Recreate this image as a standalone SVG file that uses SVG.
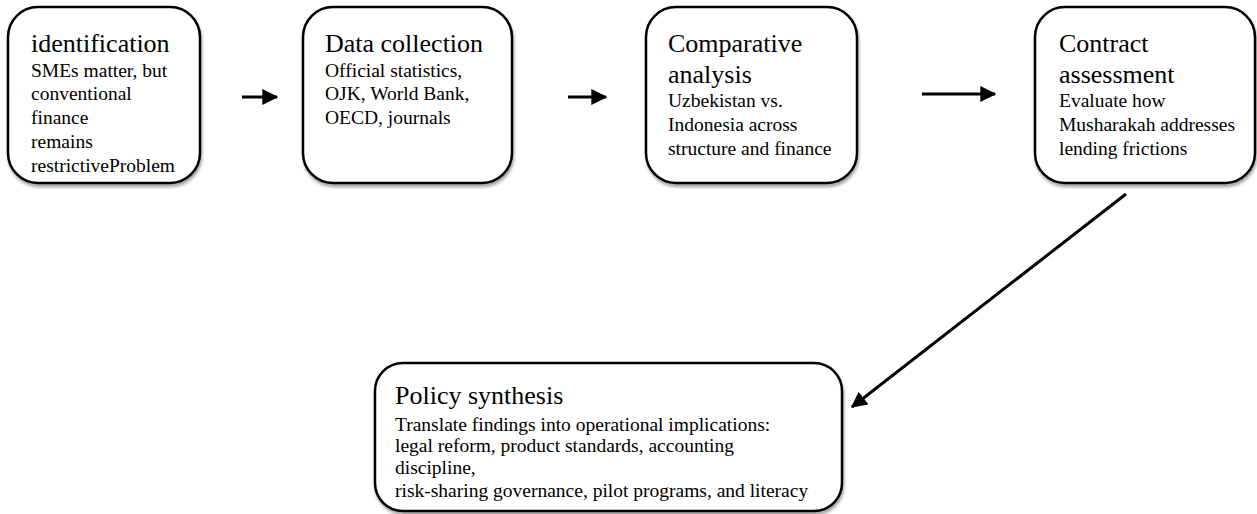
<svg xmlns="http://www.w3.org/2000/svg" width="1257" height="514" viewBox="0 0 1257 514">
<defs>
<filter id="sh" x="-10%" y="-10%" width="120%" height="125%">
<feGaussianBlur in="SourceAlpha" stdDeviation="1.5"/>
<feOffset dx="1" dy="2.5" result="o"/>
<feComponentTransfer><feFuncA type="linear" slope="0.35"/></feComponentTransfer>
<feMerge><feMergeNode/><feMergeNode in="SourceGraphic"/></feMerge>
</filter>
<marker id="ah" markerUnits="userSpaceOnUse" markerWidth="16" markerHeight="16" viewBox="0 0 12 12" refX="11" refY="6" orient="auto">
<path d="M0,0 L12,6 L0,12 Z" fill="#000"/>
</marker>
</defs>
<style>
.box{fill:#fff;stroke:#000;stroke-width:2.5;filter:url(#sh)}
.t{font-family:"Liberation Serif","Times New Roman",serif;fill:#000}
.h{font-size:26px}
.b{font-size:19.5px}
.c{stroke:#000;stroke-width:3;fill:none;marker-end:url(#ah)}
</style>
<g id="n1">
<rect class="box" x="8" y="7" width="192" height="176" rx="30" ry="30"/>
<text class="t h" x="31" y="52">identification</text>
<text class="t b" x="31" y="77">SMEs matter, but</text>
<text class="t b" x="31" y="100">conventional</text>
<text class="t b" x="31" y="124">finance</text>
<text class="t b" x="31" y="148">remains</text>
<text class="t b" x="31" y="172">restrictiveProblem</text>
</g>
<g id="n2">
<rect class="box" x="303" y="7" width="209" height="176" rx="30" ry="30"/>
<text class="t h" x="325" y="52">Data collection</text>
<text class="t b" x="325" y="77">Official  statistics,</text>
<text class="t b" x="325" y="100">OJK, World Bank,</text>
<text class="t b" x="325" y="124">OECD, journals</text>
</g>
<g id="n3">
<rect class="box" x="646" y="7" width="211" height="176" rx="30" ry="30"/>
<text class="t h" x="668" y="52">Comparative</text>
<text class="t h" x="668" y="83">analysis</text>
<text class="t b" x="668" y="107">Uzbekistan vs.</text>
<text class="t b" x="668" y="131">Indonesia across</text>
<text class="t b" x="668" y="155">structure and finance</text>
</g>
<g id="n4">
<rect class="box" x="1035" y="7" width="220" height="176" rx="30" ry="30"/>
<text class="t h" x="1059" y="52">Contract</text>
<text class="t h" x="1059" y="83">assessment</text>
<text class="t b" x="1059" y="107">Evaluate how</text>
<text class="t b" x="1059" y="131">Musharakah addresses</text>
<text class="t b" x="1059" y="155">lending frictions</text>
</g>
<g id="n5">
<rect class="box" x="375" y="363" width="467" height="148" rx="28" ry="28"/>
<text class="t h" x="395" y="404">Policy  synthesis</text>
<text class="t b" x="395" y="431">Translate  findings into operational  implications:</text>
<text class="t b" x="395" y="452">legal  reform, product standards, accounting</text>
<text class="t b" x="395" y="474">discipline,</text>
<text class="t b" x="395" y="497">risk-sharing  governance, pilot programs, and literacy</text>
</g>
<g id="connectors">
<line class="c" x1="242" y1="97" x2="277" y2="97"/>
<line class="c" x1="568" y1="97" x2="606" y2="97"/>
<line class="c" x1="922" y1="94" x2="995" y2="94"/>
<line class="c" x1="1126" y1="194" x2="852" y2="407"/>
</g>
</svg>
